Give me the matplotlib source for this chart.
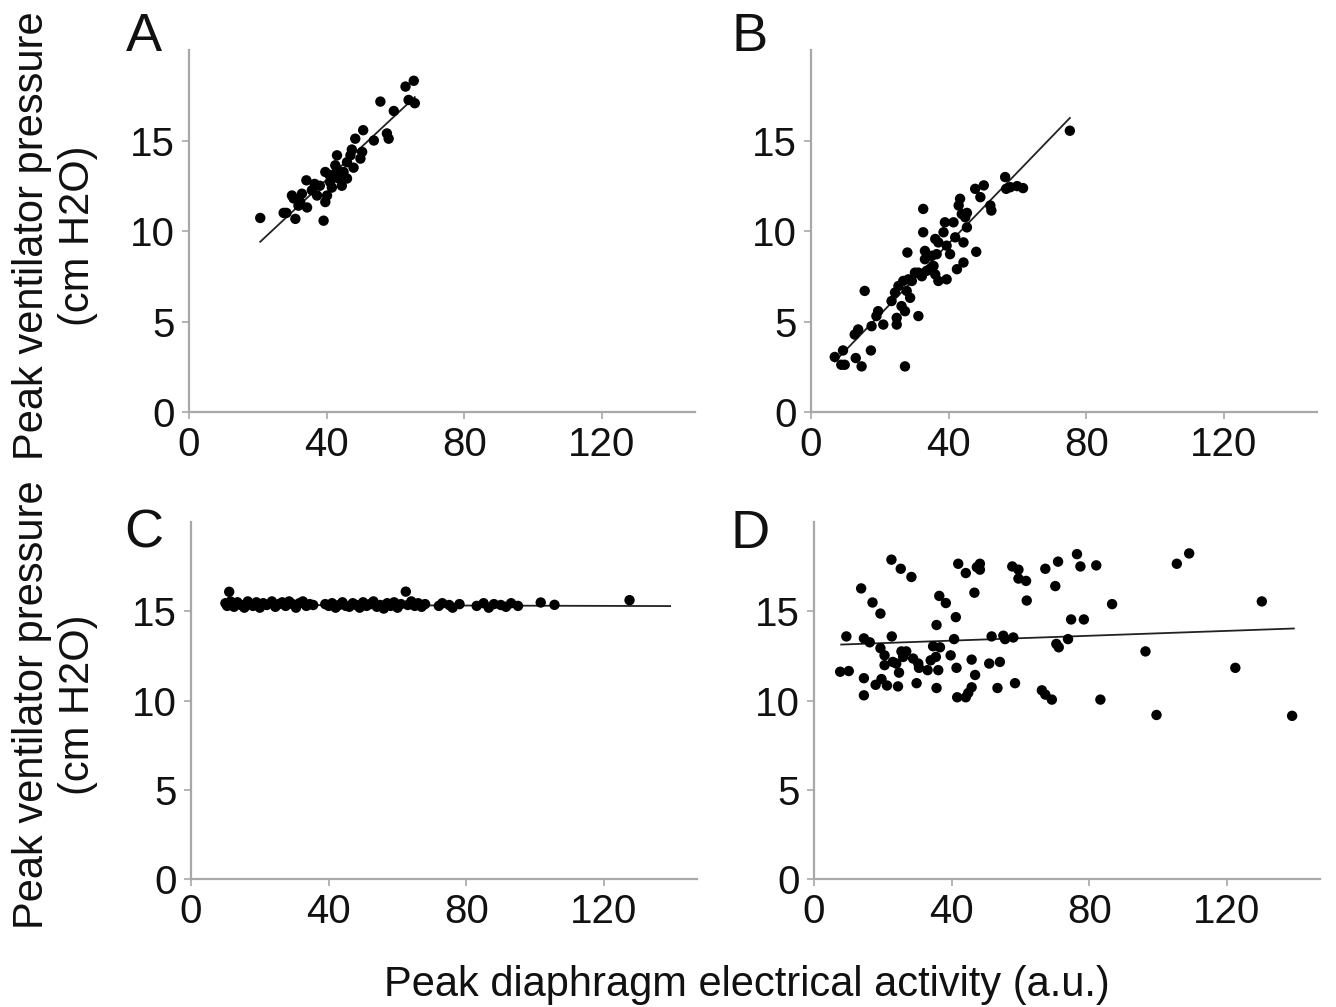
import numpy as np
import matplotlib
matplotlib.use("Agg")
from matplotlib import pyplot as plt

plt.rcParams['font.family'] = ['Liberation Sans', 'DejaVu Sans']

# panel A
a_x = [20.7, 27.5, 29.9, 30.9, 31.8, 32.8, 34.1, 34.3, 35.7, 37.2, 39.1, 39.6, 40.1, 39.6,
       41.0, 42.0, 42.5, 43.0, 43.5, 44.4, 44.9, 45.9, 46.9, 47.8, 48.3, 49.8, 50.3, 50.6,
       53.7, 55.6, 57.5, 58.0, 59.5, 62.9, 65.3, 63.8, 65.6,
       41.5, 38.0, 43.0, 45.9, 47.3, 32.3, 30.4, 28.3, 36.5, 40.8, 44.0]
a_y = [10.72, 11.0, 11.96, 10.67, 11.4, 12.06, 12.8, 11.3, 12.25, 11.96, 10.57, 11.6, 11.96, 13.26,
       12.7, 12.98, 13.63, 14.18, 12.9, 12.5, 13.26, 13.8, 14.18, 13.5, 15.1, 14.0, 14.37, 15.57,
       15.0, 17.15, 15.39, 15.1, 16.63, 17.98, 18.3, 17.24, 17.06,
       12.4, 12.5, 13.4, 12.9, 14.5, 11.6, 11.8, 11.0, 12.6, 13.1, 13.0]

# panel B
b_x = [6.9, 8.8, 9.3, 9.8, 13.0, 14.7, 17.4, 12.7, 13.7, 17.6, 15.6, 19.5, 19.0, 21.0, 23.4,
       24.4, 24.9, 24.9, 25.4, 26.3, 26.8, 27.3, 27.3, 27.8, 28.3, 28.8, 29.3, 30.2, 31.2, 31.2,
       32.2, 32.6, 32.6, 33.1, 33.1, 33.6, 34.6, 35.1, 35.6, 36.1, 36.5, 37.0, 28.0, 36.1, 37.0,
       38.5, 39.4, 38.9, 39.4, 40.4, 41.4, 41.9, 42.4, 42.9, 43.3, 43.8, 44.3, 44.3, 44.8, 45.3,
       45.3, 47.7, 48.0, 49.2, 50.2, 52.1, 52.4, 56.4, 56.7, 57.9, 59.9, 61.6, 75.2]
b_y = [3.04, 2.61, 3.4, 2.61, 2.98, 2.52, 3.4, 4.28, 4.56, 4.74, 6.69, 5.57, 5.3, 4.83, 6.13,
       6.6, 4.83, 5.2, 6.96, 5.85, 7.24, 5.57, 2.52, 6.69, 7.33, 6.31, 7.24, 7.7, 5.3, 7.7,
       7.5, 9.93, 11.22, 8.44, 8.9, 7.8, 7.89, 8.63, 8.07, 7.6, 8.72, 7.24, 8.81, 9.56, 9.37,
       9.93, 7.33, 10.48, 9.19, 8.72, 10.48, 9.65, 7.89, 11.41, 11.78, 10.94, 8.26, 9.37, 10.76, 10.2,
       11.0, 12.33, 8.85, 11.87, 12.52, 11.41, 11.13, 12.98, 12.33, 12.42, 12.48, 12.37, 15.54]

# panel C
c_x = [10.0, 10.5, 11.1, 11.5, 12.5, 13.5, 14.5, 15.5, 16.5, 17.0, 18.0, 19.0, 20.0, 21.0,
       22.0, 23.5, 24.5, 25.5, 26.5, 27.5, 28.5, 29.5, 30.5, 31.5, 32.5, 33.5, 34.5, 35.5,
       39.0, 40.0, 41.0, 42.0, 43.0, 44.0, 45.0, 46.0, 47.0, 48.0, 49.0, 50.0, 51.0, 52.0,
       53.0, 54.0, 55.0, 56.0, 57.0, 58.0, 59.0, 60.0, 61.0, 62.4, 63.0, 64.0, 65.0, 66.0,
       67.0, 68.0, 72.0, 73.0, 75.0, 76.0, 78.0, 83.0, 85.0, 86.5, 88.0, 90.0, 91.5, 93.0,
       95.0, 101.6, 105.6, 127.4]
c_y = [15.45, 15.3, 16.09, 15.55, 15.25, 15.5, 15.35, 15.2, 15.55, 15.4, 15.3, 15.5, 15.2, 15.45,
       15.35, 15.55, 15.25, 15.4, 15.5, 15.3, 15.55, 15.4, 15.2, 15.45, 15.55, 15.3, 15.4, 15.35,
       15.4, 15.3, 15.45, 15.2, 15.35, 15.5, 15.3, 15.25, 15.45, 15.35, 15.2, 15.5, 15.3, 15.4,
       15.55, 15.25, 15.35, 15.15, 15.45, 15.3, 15.5, 15.2, 15.4, 16.1, 15.35, 15.55, 15.3, 15.45,
       15.25, 15.4, 15.3, 15.45, 15.35, 15.2, 15.4, 15.3, 15.45, 15.2, 15.4, 15.35, 15.25, 15.45,
       15.3, 15.49, 15.36, 15.62]

# panel D
d_x = [7.6, 10.1, 9.4, 13.7, 14.5, 14.5, 14.5, 16.2, 17.0, 17.9, 19.3, 19.3, 19.6, 20.5, 20.5,
       21.2, 22.5, 22.6, 22.9, 23.9, 24.4, 24.7, 25.2, 25.4, 25.9, 26.8, 28.3, 28.8, 29.8, 30.3,
       30.5, 33.0, 33.9, 34.6, 35.4, 35.6, 35.6, 36.1, 36.4, 36.6, 38.3, 39.7, 40.7, 41.2, 41.4,
       41.6, 41.9, 44.1, 44.1, 44.8, 45.8, 45.8, 46.6, 46.8, 47.3, 48.2, 48.2, 50.9, 51.6, 53.3,
       54.0, 55.0, 55.5, 57.6, 57.9, 58.4, 59.4, 59.4, 61.6, 61.8, 66.2, 67.2, 69.1, 67.2, 70.1,
       70.4, 70.9, 71.1, 73.8, 74.7, 76.4, 77.4, 78.4, 82.0, 83.2, 86.6, 96.3, 99.5, 105.4, 109.0,
       122.4, 130.1, 138.9]
d_y = [11.61, 11.65, 13.59, 16.28, 13.48, 11.25, 10.29, 13.26, 15.49, 10.88, 14.87, 12.93, 11.2, 12.53, 11.98,
       10.84, 17.89, 13.59, 12.16, 12.07, 10.79, 11.56, 17.38, 12.75, 12.44, 12.75, 16.92, 12.35, 10.97, 12.07,
       11.83, 11.7, 12.25, 13.04, 12.44, 14.23, 10.7, 11.7, 15.86, 12.98, 15.46, 12.53, 13.44, 14.67, 11.83,
       10.18, 17.66, 10.18, 17.14, 10.42, 10.74, 12.29, 16.04, 11.43, 17.47, 17.66, 17.33, 12.07, 13.59, 10.7,
       12.16, 13.63, 13.44, 17.51, 13.53, 10.97, 17.33, 16.83, 16.7, 15.6, 10.57, 10.33, 10.05, 17.38, 16.41,
       13.17, 17.78, 12.98, 13.44, 14.54, 18.2, 17.51, 14.54, 17.57, 10.05, 15.4, 12.75, 9.19, 17.66, 18.24,
       11.83, 15.55, 9.14]

# regression lines: slope, intercept, x range
fit_slope = [0.178, 0.197, -0.0005, 0.00684]
fit_icpt = [5.72, 1.43, 15.36, 13.08]
fit_xmin = [20.7, 6.9, 9.1, 7.9]
fit_xmax = [65.6, 75.2, 139.2, 139.4]

letters = ['A', 'B', 'C', 'D']
xs = [a_x, b_x, c_x, d_x]
ys = [a_y, b_y, c_y, d_y]

W, H = 1336, 1007
fig = plt.figure(figsize=(W / 100, H / 100), dpi=100)

# axes boxes in pixels: left, top, right, bottom
boxes = [(189, 50, 695, 412), (811, 50, 1317, 412),
         (191, 522, 697, 879), (814, 522, 1320, 879)]
letter_pos = [(144, 37), (750, 37), (144, 534), (750, 534)]

spine_col = '#a8a8a8'
txt_col = '#111111'
for i in range(4):
    l, t, r, b = boxes[i]
    ax = fig.add_axes([l / W, 1 - b / H, (r - l) / W, (b - t) / H])
    ax.scatter(xs[i], ys[i], s=56, color='black', edgecolors='none', zorder=3)
    lx = np.array([fit_xmin[i], fit_xmax[i]])
    ax.plot(lx, fit_slope[i] * lx + fit_icpt[i], color='#222222', lw=1.3, zorder=2)
    ax.set_xlim(0, 147)
    ax.set_ylim(0, 20)
    ax.set_xticks([0, 40, 80, 120])
    ax.set_yticks([0, 5, 10, 15])
    for s in ['top', 'right']:
        ax.spines[s].set_visible(False)
    for s in ['left', 'bottom']:
        ax.spines[s].set_color(spine_col)
        ax.spines[s].set_linewidth(1.6)
    ax.tick_params(axis='both', labelsize=29, color=spine_col, length=5, width=1.2,
                   labelcolor=txt_col)
    ax.tick_params(axis='x', pad=5)
    ax.tick_params(axis='y', pad=5)
    fig.text(letter_pos[i][0] / W, 1 - letter_pos[i][1] / H, letters[i],
             fontsize=39, ha='center', va='center', color=txt_col)

for cy in [236, 705]:
    fig.text(55 / W, 1 - cy / H, "Peak ventilator pressure\n(cm H2O)", rotation=90,
             fontsize=30, ha='center', va='center', linespacing=1.2, color=txt_col)

fig.text(747 / W, 1 - 985 / H, "Peak diaphragm electrical activity (a.u.)",
         fontsize=30, ha='center', va='center', color=txt_col)

fig.savefig('out.png', dpi=100)
